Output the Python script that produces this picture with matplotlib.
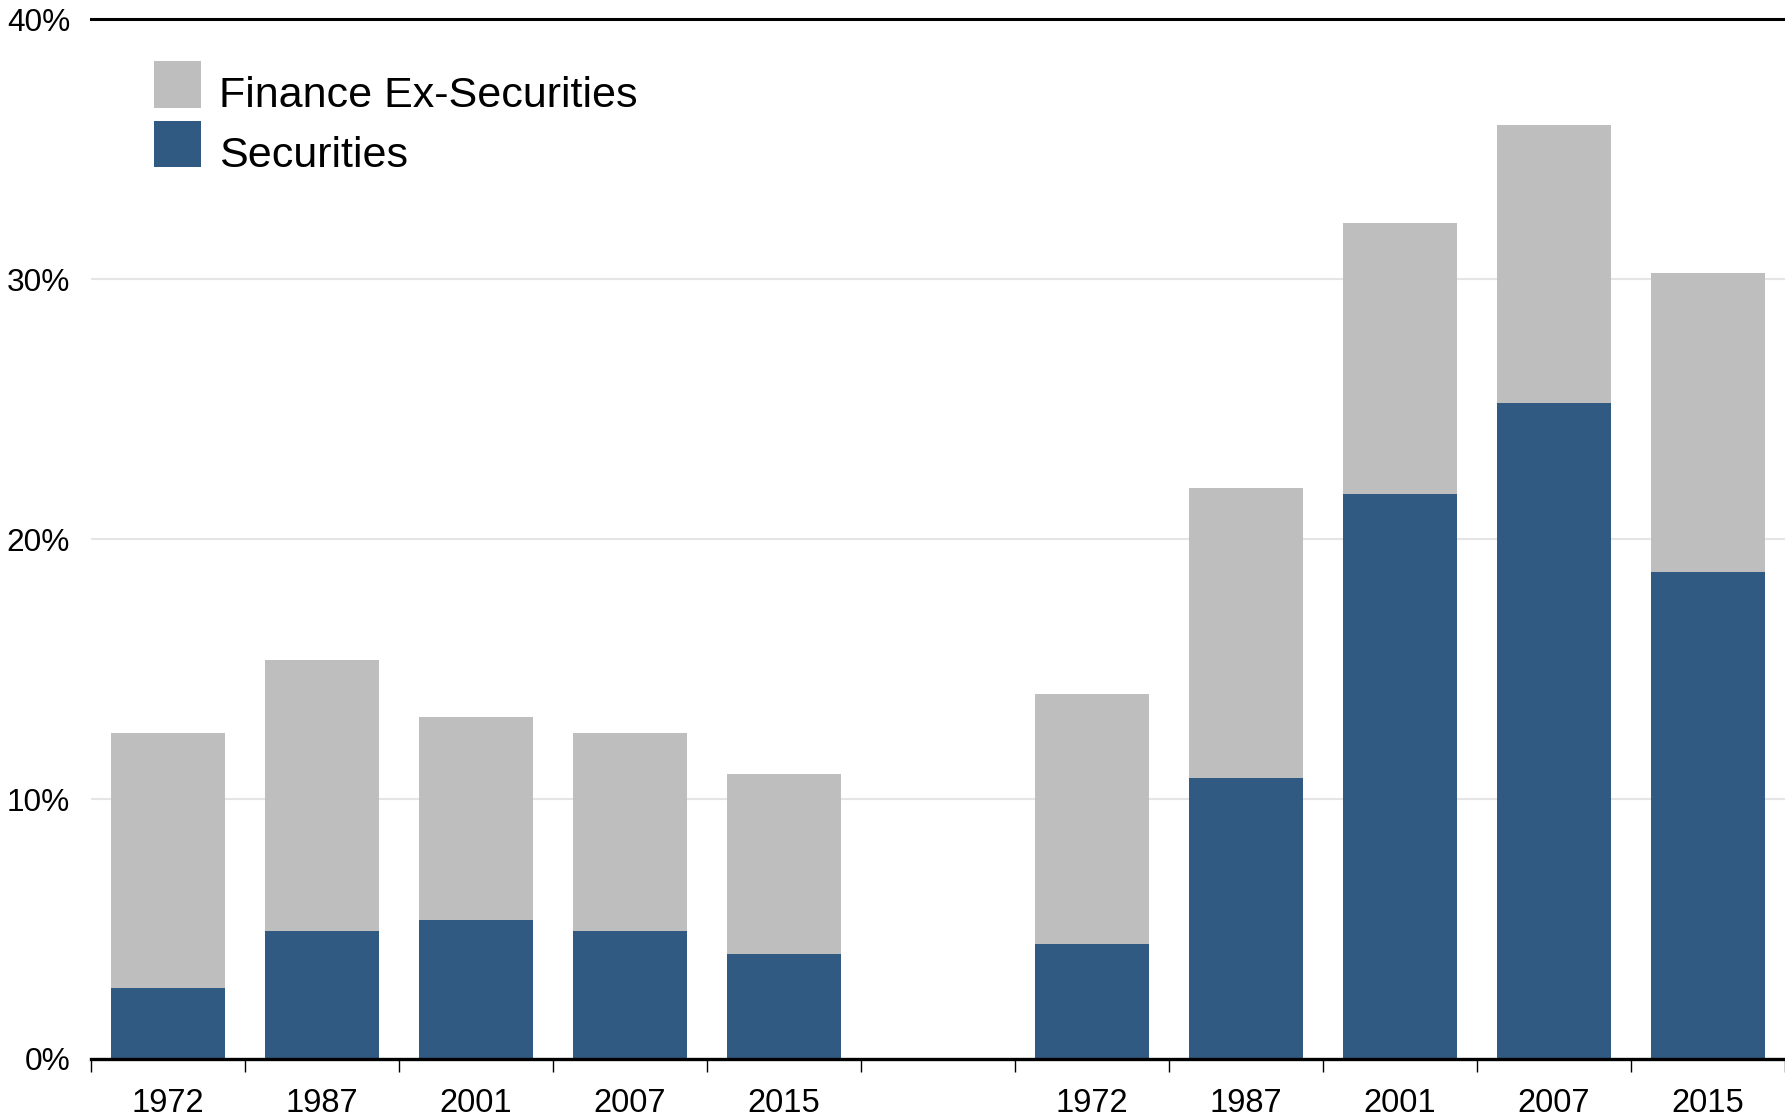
import matplotlib
matplotlib.use("Agg")
import matplotlib.pyplot as plt
from matplotlib.patches import Patch, Rectangle
from matplotlib.legend_handler import HandlerPatch
import numpy as np

plt.rcParams['font.family'] = ['Liberation Sans', 'DejaVu Sans']

years = ["1972", "1987", "2001", "2007", "2015"]
# left group
left_securities = [2.73, 4.92, 5.35, 4.92, 4.04]
left_total = [12.55, 15.35, 13.15, 12.55, 10.95]
# right group
right_securities = [4.42, 10.82, 21.75, 25.25, 18.72]
right_total = [14.06, 21.97, 32.15, 35.93, 30.23]

series_names = ["Finance Ex-Securities", "Securities"]
gray = "#BEBEBE"
blue = "#315A82"

securities = left_securities + [0.0] + right_securities
totals = left_total + [0.0] + right_total
ex_sec = [t - s for t, s in zip(totals, securities)]
labels = years + [""] + years
x = np.arange(len(labels))
has_bar = np.array([lab != "" for lab in labels])

fig = plt.figure(figsize=(17.85, 11.16), dpi=100)
ax = fig.add_axes([91/1785, 1 - 1059/1116, 1 - 91/1785, (1059 - 19.3)/1116])

ax.bar(x[has_bar], np.array(securities)[has_bar], width=0.74, color=blue, zorder=2)
ax.bar(x[has_bar], np.array(ex_sec)[has_bar], width=0.74, bottom=np.array(securities)[has_bar],
       color=gray, zorder=2)

ax.set_xlim(-0.5, len(labels) - 0.5)
ax.set_ylim(0, 40)

# y axis
ax.set_yticks([0, 10, 20, 30, 40])
ax.set_yticklabels([f"{v}%" for v in [0, 10, 20, 30, 40]], fontsize=22.8)
ax.tick_params(axis='y', length=0, pad=15)
for v in [10, 20, 30]:
    ax.axhline(v, color="#E5E5E5", lw=1.5, zorder=0)

# x axis: boundary ticks (major), labels at centers (minor)
ax.set_xticks(np.arange(-0.5, len(labels), 1.0))
ax.set_xticklabels([])
ax.tick_params(axis='x', which='major', length=9, width=1.0, color='black', direction='out')
ax.set_xticks(x, minor=True)
ax.set_xticklabels(labels, minor=True, fontsize=23.5)
ax.tick_params(axis='x', which='minor', length=0, pad=21)

for s in ['left', 'right']:
    ax.spines[s].set_visible(False)
ax.spines['bottom'].set_linewidth(2.4)
ax.spines['top'].set_linewidth(2.2)
ax.spines['bottom'].set_zorder(3)


def raised_square(legend, orig_handle, xdescent, ydescent, width, height, fontsize):
    return Rectangle((-xdescent, -ydescent + 6.0), width, height)


handles = [Patch(facecolor=gray, edgecolor='none'), Patch(facecolor=blue, edgecolor='none')]
leg = ax.legend(handles, series_names, loc='upper left',
                bbox_to_anchor=(154/1785, 1 - 69/1116), bbox_transform=fig.transFigure,
                frameon=False, fontsize=31, handlelength=1.1, handleheight=1.30,
                handletextpad=0.42, labelspacing=0.30, borderpad=0, borderaxespad=0,
                handler_map={Patch: HandlerPatch(patch_func=raised_square)})

fig.savefig("out.png", dpi=100)
